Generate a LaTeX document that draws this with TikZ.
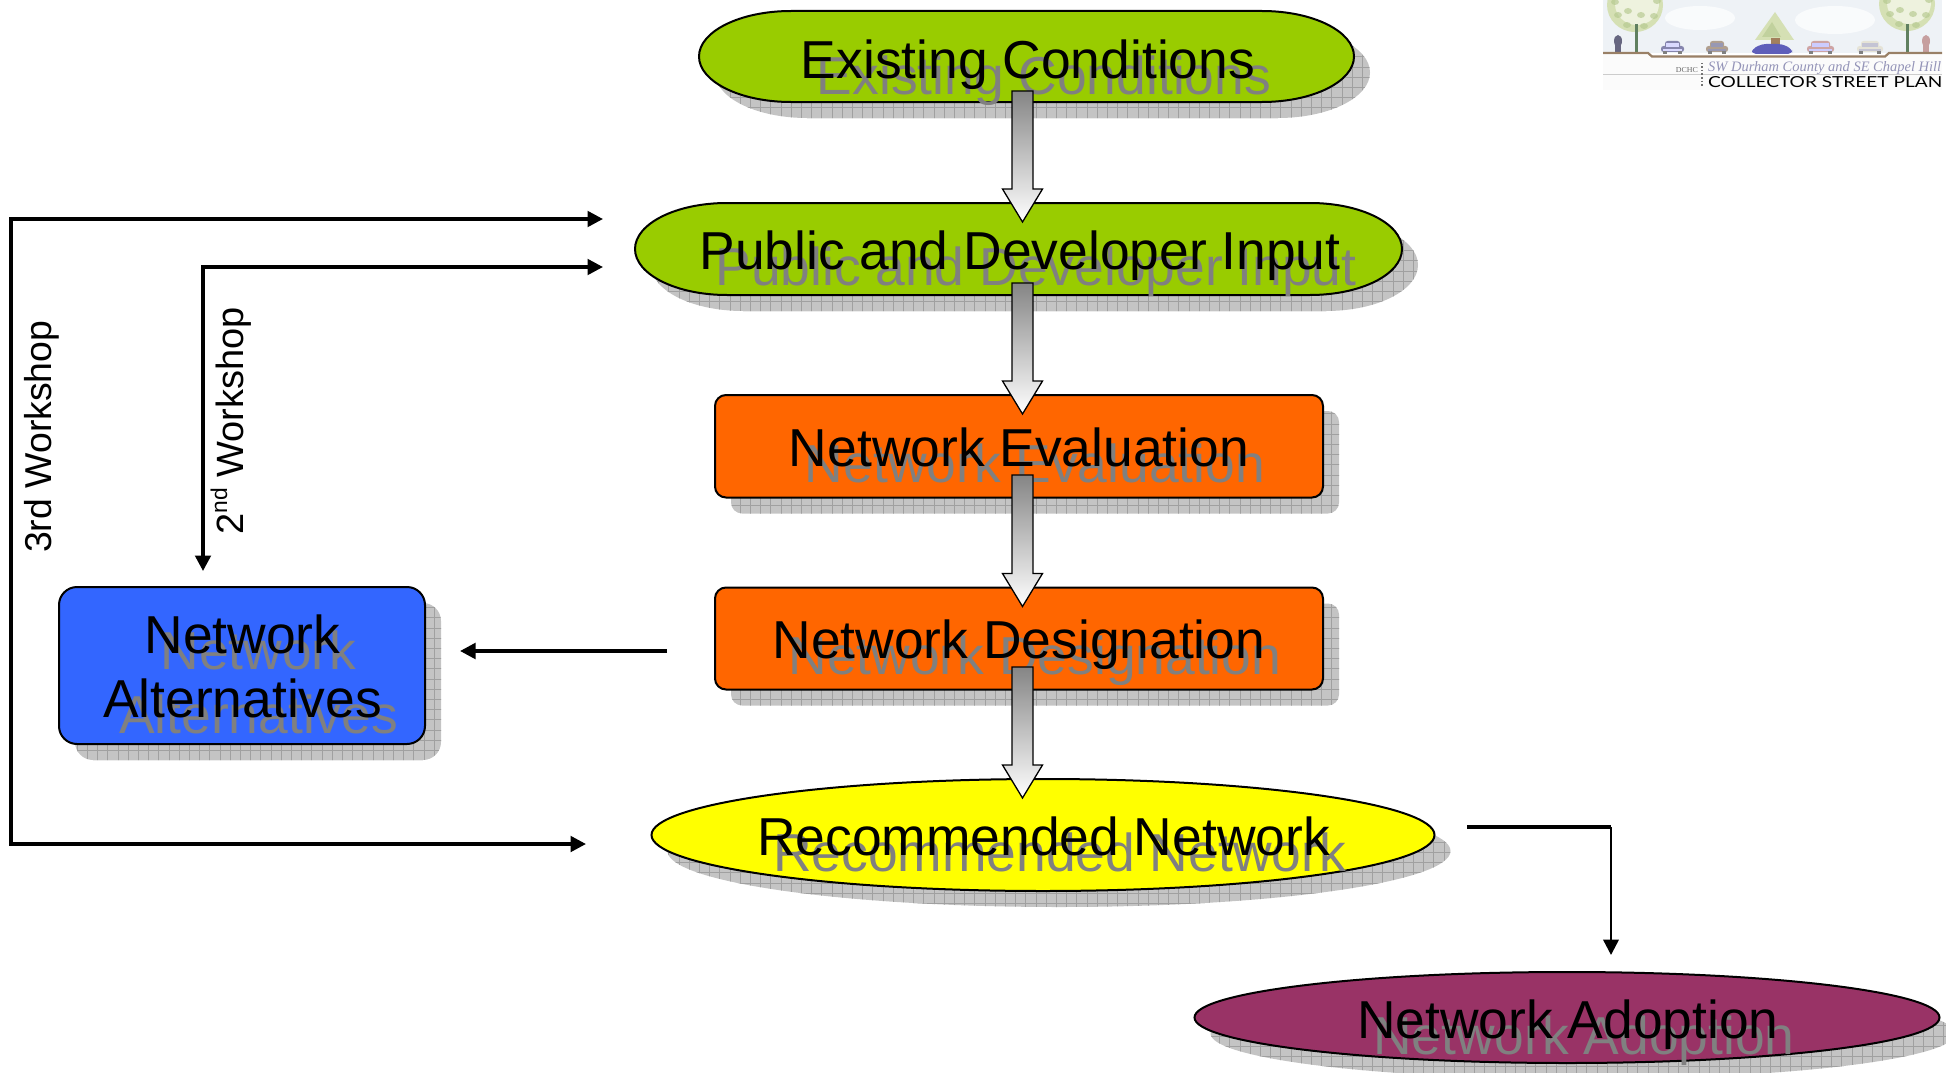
\documentclass[tikz,border=0pt]{standalone}
\usepackage{fontspec}
\usepackage{graphicx}
\setmainfont{Liberation Sans}
\newfontfamily\logoserif{Liberation Serif}
\newfontfamily\logosans{Lato}
\usetikzlibrary{calc,arrows.meta}
\definecolor{cgreen}{HTML}{99CC00}
\definecolor{corange}{HTML}{FF6600}
\definecolor{cblue}{HTML}{3366FF}
\definecolor{cyellow}{HTML}{FFFF00}
\definecolor{cplum}{HTML}{993366}
\definecolor{shfill}{HTML}{C4C4C4}
\definecolor{shline}{HTML}{A0A0A0}
\definecolor{shtext}{HTML}{808080}
\definecolor{arrowgray}{HTML}{858585}
\definecolor{crownlight}{HTML}{EEF2DE}
\definecolor{crownmid}{HTML}{D5E0B4}
\definecolor{crowndark}{HTML}{B4C88E}
\definecolor{skycol}{HTML}{EEF2F6}
\tikzset{
  shapeborder/.style={draw=black,line width=2pt},
  maintext/.style={font=\fontsize{53.4}{64}\selectfont,text=black,inner sep=0pt,anchor=base,align=center},
  shadowtext/.style={maintext,text=shtext},
  sidelabel/.style={font=\fontsize{37.4}{44}\selectfont,text=black,inner sep=0pt,rotate=90,anchor=base west},
  conn/.style={draw=black,line width=3.5pt,line join=miter},
  blockarrow/.style={draw=black,line width=1.3pt,line join=miter,top color=arrowgray,bottom color=white},
}
\def\pExisting{(791,11) -- (1262,11) arc[start angle=90,end angle=-90,x radius=92pt,y radius=45.5pt] -- (791,102) arc[start angle=270,end angle=90,x radius=92pt,y radius=45.5pt] -- cycle}
\def\pPublic{(727,203) -- (1310,203) arc[start angle=90,end angle=-90,x radius=92pt,y radius=46pt] -- (727,295) arc[start angle=270,end angle=90,x radius=92pt,y radius=46pt] -- cycle}
\def\pEvaluation{[rounded corners=11pt] (715,395) rectangle (1323,497.5) [sharp corners]}
\def\pDesignation{[rounded corners=11pt] (715,587.5) rectangle (1323,689.5) [sharp corners]}
\def\pAlternatives{[rounded corners=18pt] (59,587) rectangle (425,744) [sharp corners]}
\def\pRecommended{(1043,835) ellipse [x radius=391.5pt,y radius=56pt]}
\def\pAdoption{(1567,1017.5) ellipse [x radius=372.5pt,y radius=45.5pt]}
\newcommand\blockarr[2]{\shade[blockarrow] ($(#1)+(-10.5,0)$) -- ($(#2)+(-10.5,-33)$) -- ($(#2)+(-20,-33)$) -- (#2) -- ($(#2)+(20,-33)$) -- ($(#2)+(10.5,-33)$) -- ($(#1)+(10.5,0)$) -- cycle;}
\newcommand\crown[4]{% cx cy rx ry
  \fill[crownmid] (#1,#2) ellipse [x radius=#3pt,y radius=#4pt];
  \fill[crownlight] (#1+2,#2-1) ellipse [x radius=#3pt-6pt,y radius=#4pt-6pt];
  \foreach \dx/\dy in {-20/-3,-17/10,-8/20,9/21,19/11,22/-4,-7/6,6/10}{
    \fill[crowndark,opacity=.65] (#1+\dx,#2+\dy) ellipse [x radius=4pt,y radius=3pt];
  }
}
\newcommand\logocar[5]{% x0 x1 ytop body window
  \fill[#4,rounded corners=2.5pt] (#1,#3+5) rectangle (#2,52);
  \fill[#4,rounded corners=2.5pt] (#1+4,#3) rectangle (#2-4,#3+7);
  \fill[#5] (#1+5,#3+2) rectangle (#2-5,#3+6);
  \fill[#5] (#1+2,#3+8) rectangle (#2-2,#3+10);
  \fill[black!50] (#1+2,51.5) rectangle (#1+6,54);
  \fill[black!50] (#2-6,51.5) rectangle (#2-2,54);
}
\begin{document}
\begin{tikzpicture}[x=1pt,y=-1pt]
\useasboundingbox (0,0) rectangle (1946,1073);
% ---- logo
\fill[white!97!gray] (1603,55) rectangle (1942,90);
\fill[skycol] (1603,0) rectangle (1942,53);
\fill[white,opacity=.7] (1700,18) ellipse [x radius=35pt,y radius=12pt];
\fill[white,opacity=.7] (1835,20) ellipse [x radius=40pt,y radius=14pt];
\crown{1635}{5}{28}{27}
\crown{1907}{4}{28}{27}
\draw[black!50!green!25!gray,line width=3pt] (1636,24) -- (1636,52);
\draw[black!50!green!25!gray,line width=3pt] (1907,24) -- (1907,52);
\fill[crownmid] (1775,12) -- (1794,40) -- (1755,40) -- cycle;
\fill[crowndark,opacity=.6] (1772,22) -- (1781,37) -- (1762,37) -- cycle;
\fill[brown!55!gray] (1771,38) rectangle (1780,45);
\fill[black!50!blue!20!gray] (1618,41) ellipse [x radius=4pt,y radius=6pt];
\fill[black!50!blue!20!gray] (1615,44) rectangle (1621,52);
\fill[red!25!gray!60] (1926,41) ellipse [x radius=4pt,y radius=6pt];
\fill[red!25!gray!60] (1923,44) rectangle (1929,53);
\logocar{1661}{1684}{41}{blue!20!gray!80}{white!85!blue}
\logocar{1706}{1728}{41}{brown!35!gray!75}{blue!15!gray!70}
\fill[blue!40!gray!90,rounded corners=4pt] (1752,54) -- (1752,49) -- (1762,44) -- (1782,44) -- (1792,49) -- (1792,54) -- cycle;
\logocar{1807}{1834}{41}{red!30!gray!55}{white!80!blue}
\logocar{1857}{1883}{41}{yellow!20!gray!30}{blue!15!gray!40}
\draw[brown!40!gray,line width=2.2pt] (1603,53) -- (1648,53) -- (1652,56.5) -- (1885,56.5) -- (1889,53) -- (1942,53);
\draw[black!20,line width=.7pt] (1603,74) -- (1942,74);
\draw[black!55,line width=1.4pt,dash pattern=on 1.5pt off 2pt] (1702,63) -- (1702,87);
\node[inner sep=0pt,anchor=base east,text=black!60] (logodchc) at (1698,72) {\logoserif\resizebox{22pt}{5pt}{DCHC}};
\node[inner sep=0pt,anchor=base west,text=blue!20!gray!70] (logoplace) at (1708,72) {\logoserif\itshape\resizebox{233pt}{10pt}{SW Durham County and SE Chapel Hill}};
\node[inner sep=0pt,anchor=base west,text=black] (logotitle) at (1708,88) {\logosans\resizebox{234pt}{11pt}{COLLECTOR STREET PLAN}};
% ---- shadows
\begin{scope}[shift={(16,16)}]
  \clip \pExisting \pPublic \pEvaluation \pDesignation \pAlternatives \pRecommended \pAdoption;
  \fill[shfill] (0,0) rectangle (1946,1073);
  \foreach \i in {0,...,190}{\draw[shline,line width=.8pt] ({\i*10.2},0) -- ({\i*10.2},1073);}
  \foreach \i in {0,...,105}{\draw[shline,line width=.8pt] (0,{\i*10.2}) -- (1946,{\i*10.2});}
\end{scope}
% ---- shapes
\path[shapeborder,fill=cgreen] \pExisting;
\path[shapeborder,fill=cgreen] \pPublic;
\path[shapeborder,fill=corange] \pEvaluation;
\path[shapeborder,fill=corange] \pDesignation;
\path[shapeborder,fill=cblue] \pAlternatives;
\path[shapeborder,fill=cyellow] \pRecommended;
\path[shapeborder,fill=cplum] \pAdoption;
% ---- shadow text
\node[shadowtext] (existingS) at (1044,94) {Existing Conditions};
\node[shadowtext] (publicS) at (1036,285) {Public and Developer Input};
\node[shadowtext] (evaluationS) at (1035,482) {Network Evaluation};
\node[shadowtext] (designationS) at (1035,674.5) {Network Designation};
\node[shadowtext] (alternativesS) at (258.5,733) {Network\\Alternatives};
\node[shadowtext] (recommendedS) at (1059.5,871) {Recommended Network};
\node[shadowtext] (adoptionS) at (1584,1054) {Network Adoption};
% ---- main text
\node[maintext] (existing) at (1028,78) {Existing Conditions};
\node[maintext] (public) at (1020,269) {Public and Developer Input};
\node[maintext] (evaluation) at (1019,466) {Network Evaluation};
\node[maintext] (designation) at (1019,658.5) {Network Designation};
\node[maintext] (alternatives) at (242.5,717) {Network\\Alternatives};
\node[maintext] (recommended) at (1043.5,855) {Recommended Network};
\node[maintext] (adoption) at (1568,1038) {Network Adoption};
% ---- block arrows
\coordinate (a1s) at (1022.5,91);  \coordinate (a1e) at (1022.5,222);
\coordinate (a2s) at (1022.5,283); \coordinate (a2e) at (1022.5,414);
\coordinate (a3s) at (1022.5,475); \coordinate (a3e) at (1022.5,606.5);
\coordinate (a4s) at (1022.5,667); \coordinate (a4e) at (1022.5,798);
\blockarr{a1s}{a1e}
\blockarr{a2s}{a2e}
\blockarr{a3s}{a3e}
\blockarr{a4s}{a4e}
% ---- workshop connectors
\coordinate (w3a) at (603,219);
\coordinate (w3b) at (11,219);
\coordinate (w3c) at (11,844);
\coordinate (w3d) at (586,844);
\coordinate (w2a) at (603,267);
\coordinate (w2b) at (203,267);
\coordinate (w2c) at (203,571);
\coordinate (d1) at (667,651);
\coordinate (d2) at (460,651);
\coordinate (r1) at (1467,827);
\coordinate (r2) at (1611,827);
\coordinate (r3) at (1611,955);
\draw[conn,{Triangle[length=15.5pt,width=15.5pt]}-{Triangle[length=15.5pt,width=15.5pt]}] (w3a) -- (w3b) -- (w3c) -- (w3d);
\draw[conn,{Triangle[length=15.5pt,width=15.5pt]}-{Triangle[length=15.5pt,width=15.5pt]}] (w2a) -- (w2b) -- (w2c);
\draw[conn,-{Triangle[length=15.5pt,width=15.5pt]}] (d1) -- (d2);
\draw[conn] (r1) -- (r2);
\draw[draw=black,line width=2.5pt,-{Triangle[length=15.5pt,width=15.5pt]}] (r2) -- (r3);
% ---- labels
\node[sidelabel] (third) at (51,553) {3rd Workshop};
\node[sidelabel,font=\fontsize{38}{44}\selectfont] (second) at (243,535) {2\raisebox{.42em}{\fontsize{22.8}{26}\selectfont nd} Workshop};
\end{tikzpicture}
\end{document}
